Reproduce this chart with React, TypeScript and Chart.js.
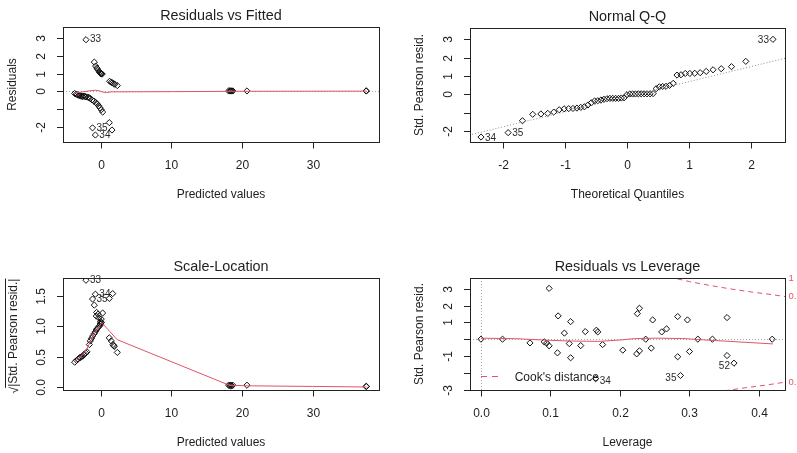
import React, { useEffect, useRef } from "react";
import { Chart, registerables } from "chart.js";

Chart.register(...registerables);

// ---------------- data ----------------
// Panel 1: Residuals vs Fitted
const rvfFitted = [
  -2.08, -0.9, -0.71, -0.55, -0.45, -0.28, -0.15, -0.05, 0.0, 0.08, 0.14, 0.2,
  1.27, 1.5, 1.65, 1.85, 2.0, 2.35,
  -3.68, -3.45, -3.3, -3.11, -2.95, -2.83, -2.65, -2.55, -2.36, -2.2, -2.08, -1.8, -1.6, -1.47, -1.23, -0.95, -0.71, -0.6, -0.48, -0.28, -0.1, 0.08, 0.28,
  1.22, 1.6, -1.15, -0.75,
  18.1, 18.25, 18.35, 18.45, 18.55, 18.7, 20.7, 37.55, 37.6,
];
const rvfResiduals = [
  2.89, 1.64, 1.42, 1.31, 1.26, 1.14, 1.08, 1.03, 1.0, 0.98, 1.0, 0.97,
  0.57, 0.52, 0.48, 0.43, 0.4, 0.33,
  -0.11, -0.15, -0.18, -0.21, -0.23, -0.24, -0.27, -0.28, -0.26, -0.29, -0.3, -0.32, -0.36, -0.39, -0.47, -0.54, -0.61, -0.66, -0.71, -0.8, -0.91, -1.02, -1.15,
  -1.74, -2.15, -2.03, -2.43,
  0.03, 0.03, 0.03, 0.03, 0.03, 0.03, 0.03, 0.03, 0.03,
];
const rvfSmoothX = [-3.7, -2.5, -1.5, -0.7, -0.2, 0.3, 0.8, 1.5, 2.4, 10.3, 18.3, 37.6];
const rvfSmoothY = [-0.08, -0.02, 0.04, 0.07, 0.04, -0.03, -0.06, -0.02, -0.02, -0.01, 0.01, 0.02];
const rvfIds = ["33", "35", "34"];
const rvfIdX = [-2.08, -1.15, -0.75];
const rvfIdY = [2.89, -2.03, -2.43];

// Panel 2: Normal Q-Q
const qqTheoretical = [
  -2.362, -1.923, -1.691, -1.525, -1.393, -1.282, -1.184, -1.097, -1.017, -0.943,
  -0.874, -0.81, -0.748, -0.689, -0.632, -0.577, -0.524, -0.473, -0.422, -0.373,
  -0.324, -0.277, -0.23, -0.184, -0.137, -0.091, -0.046, 0.0,
  0.046, 0.091, 0.137, 0.184, 0.23, 0.277, 0.324, 0.373, 0.422,
  0.473, 0.524, 0.577, 0.632, 0.689, 0.748,
  0.81, 0.874, 0.943, 1.017, 1.097, 1.184, 1.282, 1.393, 1.525, 1.691, 1.923, 2.362,
];
const qqStdResid = [
  -2.33, -2.09, -1.44, -1.09, -1.07, -1.04, -0.97, -0.84, -0.79, -0.78,
  -0.77, -0.75, -0.71, -0.68, -0.58, -0.46, -0.36, -0.35, -0.31, -0.27,
  -0.24, -0.22, -0.22, -0.22, -0.22, -0.2, -0.19, -0.02,
  0.02, 0.02, 0.02, 0.03, 0.03, 0.03, 0.03, 0.03, 0.04,
  0.31, 0.41, 0.43, 0.44, 0.49, 0.6,
  1.05, 1.07, 1.14, 1.14, 1.15, 1.18, 1.25, 1.34, 1.4, 1.51, 1.8, 3.0,
];
const qqLineX = [-2.6, 2.6];
const qqLineY = [-2.26, 2.0];
const qqIds = ["34", "35", "33"];
const qqIdX = [-2.362, -1.923, 2.362];
const qqIdY = [-2.33, -2.09, 3.0];

// Panel 3: Scale-Location
const slFitted = [
  -2.08, -0.75, -1.15, 1.7, 1.22, -0.9,
  -0.57, -0.62, -0.38, 0.28, -0.28, 0.08, 0.0, -0.06, 0.05,
  1.22, 1.5, 1.74, 1.85, 1.93, 2.35,
  -3.68, -3.4, -3.2, -3.0, -2.89, -2.7, -2.55, -2.4, -2.27, -2.1, -1.94, -1.6, -1.47, -1.3, -1.13, -0.9, -0.75, -0.62, -0.5, -0.38, -0.15, 0.0, 0.08,
  18.1, 18.25, 18.35, 18.45, 18.55, 18.7, 20.7, 37.55, 37.6,
];
const slRootResid = [
  1.76, 1.53, 1.45, 1.54, 1.46, 1.35,
  1.23, 1.17, 1.2, 1.22, 1.14, 1.12, 1.08, 1.04, 1.06,
  0.81, 0.76, 0.7, 0.68, 0.67, 0.57,
  0.41, 0.44, 0.46, 0.48, 0.49, 0.5, 0.51, 0.53, 0.54, 0.56, 0.58, 0.7, 0.76, 0.8, 0.84, 0.88, 0.91, 0.94, 0.96, 0.98, 1.01, 1.03, 1.06,
  0.03, 0.03, 0.02, 0.03, 0.02, 0.03, 0.03, 0.01, 0.01,
];
const slSmoothX = [-3.7, -3.0, -2.0, -1.0, -0.4, 0.15, 2.35, 18.2, 20.7, 30.0, 37.6];
const slSmoothY = [0.42, 0.48, 0.62, 0.86, 0.97, 1.06, 0.78, 0.03, 0.02, 0.01, 0.0];
const slIds = ["33", "34", "35"];
const slIdX = [-2.08, -0.75, -1.15];
const slIdY = [1.76, 1.53, 1.45];

// Panel 4: Residuals vs Leverage
const rvlLeverage = [
  0.0, 0.031, 0.0705, 0.091, 0.0945, 0.098, 0.098, 0.111, 0.11, 0.12, 0.127, 0.129, 0.129, 0.1435,
  0.15, 0.166, 0.168, 0.175, 0.165, 0.204, 0.225, 0.228, 0.224, 0.228, 0.237, 0.245, 0.247, 0.26,
  0.267, 0.283, 0.283, 0.287, 0.297, 0.3, 0.312, 0.333, 0.354, 0.354, 0.364, 0.419,
];
const rvlStdResid = [
  0.01, 0.01, -0.21, -0.15, -0.22, -0.38, 3.02, 1.39, -0.8, 0.37, -0.25, 1.05, -1.09, -0.37,
  0.46, 0.54, 0.44, -0.31, -2.33, -0.64, 1.52, 1.84, -0.86, -0.68, 0.01, -0.52, 1.15, 0.44,
  0.62, 1.35, -1.03, -2.14, 1.15, -0.72, 0.01, 0.01, 1.29, -0.96, -1.41, 0.01,
];
const rvlSmoothX = [0.0, 0.05, 0.1, 0.13, 0.17, 0.2, 0.22, 0.25, 0.29, 0.32, 0.37, 0.42];
const rvlSmoothY = [0.07, 0.04, -0.06, -0.1, -0.12, -0.04, 0.04, 0.07, 0.05, -0.03, -0.15, -0.27];
const cookHalfUpperH = [0.27, 0.3, 0.33, 0.36, 0.39, 0.42, 0.44];
const cookHalfUpperY = [3.7, 3.42, 3.19, 2.98, 2.8, 2.64, 2.52];
const cookOneUpperH = [0.42, 0.44];
const cookOneUpperY = [3.72, 3.57];
const cookHalfLowerH = [0.35, 0.38, 0.41, 0.44];
const cookHalfLowerY = [-3.05, -2.87, -2.71, -2.52];
const cookLabels = ["1", "0.5", "0.5"];
const cookLabelY = [3.59, 2.54, -2.54];
const rvlIds = ["34", "35", "52"];
const rvlIdX = [0.165, 0.287, 0.364];
const rvlIdY = [-2.33, -2.14, -1.41];

// tick values / labels
const fittedTicks = [0, 10, 20, 30];
const fittedTickLabels = ["0", "10", "20", "30"];
const residTicks = [-2, -1, 0, 1, 2, 3];
const residTickLabels = ["-2", "", "0", "1", "2", "3"];
const qqXTicks = [-2, -1, 0, 1, 2];
const qqXTickLabels = ["-2", "-1", "0", "1", "2"];
const slYTicks = [0, 0.5, 1, 1.5];
const slYTickLabels = ["0.0", "0.5", "1.0", "1.5"];
const levXTicks = [0, 0.1, 0.2, 0.3, 0.4];
const levXTickLabels = ["0.0", "0.1", "0.2", "0.3", "0.4"];
const levYTicks = [-3, -2, -1, 0, 1, 2, 3];
const levYTickLabels = ["-3", "", "-1", "", "1", "2", "3"];

// ---------------- styling ----------------
const W = 797;
const H = 453;
const FONT = '"Liberation Sans", Arial, Helvetica, sans-serif';
const INK = "#1e1e1e";
const RED = "#DF536B";
const GRAY = "#a8a8a8";

const zip = (xs: number[], ys: number[]) => xs.map((x, i) => ({ x, y: ys[i] }));

const pointSet = (xs: number[], ys: number[]) => ({
  data: zip(xs, ys),
  showLine: false,
  pointStyle: "rectRot",
  pointRadius: 3.1,
  pointBorderWidth: 1,
  borderColor: "#111",
  backgroundColor: "rgba(0,0,0,0)",
  pointBackgroundColor: "rgba(0,0,0,0)",
  pointBorderColor: "#111",
  order: 1,
});

const lineSet = (xs: number[], ys: number[], dash: number[] = [], color = RED) => ({
  data: zip(xs, ys),
  showLine: true,
  pointRadius: 0,
  borderColor: color,
  borderWidth: 1,
  borderDash: dash,
  tension: 0,
  fill: false,
  order: 0,
});

type Id = { text: string; x: number; y: number; side: "left" | "right"; dy: number };

type Spec = {
  box: { left: number; top: number; right: number; bottom: number };
  xRange: [number, number];
  yRange: [number, number];
  xTicks: number[];
  xTickLabels: string[];
  yTicks: number[];
  yTickLabels: string[];
  title: string;
  xLabel: string;
  yLabel: string;
  sqrtLabel?: boolean;
  hRefs: number[];
  vRefs: number[];
  refDash: number[];
  ids: Id[];
  datasets: any[];
  extra?: (chart: any) => void;
};

const mkIds = (texts: string[], xs: number[], ys: number[], sides: ("left" | "right")[], dy: number): Id[] =>
  texts.map((t, i) => ({ text: t, x: xs[i], y: ys[i], side: sides[i], dy }));

function drawText(ctx: CanvasRenderingContext2D, s: string, x: number, y: number, size: number, align: CanvasTextAlign = "center", color = INK, rot = 0) {
  ctx.save();
  ctx.font = `${size}px ${FONT}`;
  ctx.fillStyle = color;
  ctx.textAlign = align;
  ctx.textBaseline = "middle";
  ctx.translate(x, y);
  if (rot) ctx.rotate(rot);
  ctx.fillText(s, 0, 0);
  ctx.restore();
}

function makePlugin(spec: Spec) {
  return {
    id: "rbase",
    beforeDatasetsDraw(chart: any) {
      const { ctx, chartArea: a } = chart;
      const xs = chart.scales.x;
      const ys = chart.scales.y;
      ctx.save();
      ctx.strokeStyle = GRAY;
      ctx.lineWidth = 1;
      ctx.setLineDash(spec.refDash);
      for (const v of spec.hRefs) {
        const py = Math.round(ys.getPixelForValue(v)) + 0.5;
        ctx.beginPath();
        ctx.moveTo(a.left, py);
        ctx.lineTo(a.right, py);
        ctx.stroke();
      }
      for (const v of spec.vRefs) {
        const px = Math.round(xs.getPixelForValue(v)) + 0.5;
        ctx.beginPath();
        ctx.moveTo(px, a.top);
        ctx.lineTo(px, a.bottom);
        ctx.stroke();
      }
      ctx.restore();
    },
    afterDatasetsDraw(chart: any) {
      const { ctx, chartArea: a } = chart;
      const xs = chart.scales.x;
      const ys = chart.scales.y;
      ctx.save();
      ctx.strokeStyle = "#222";
      ctx.lineWidth = 1;
      ctx.setLineDash([]);
      ctx.strokeRect(a.left + 0.5, a.top + 0.5, a.right - a.left, a.bottom - a.top);
      // x ticks
      spec.xTicks.forEach((v, i) => {
        const px = Math.round(xs.getPixelForValue(v)) + 0.5;
        ctx.beginPath();
        ctx.moveTo(px, a.bottom + 0.5);
        ctx.lineTo(px, a.bottom + 6.5);
        ctx.stroke();
        drawText(ctx, spec.xTickLabels[i], px, a.bottom + 23.5, 12);
      });
      // y ticks
      spec.yTicks.forEach((v, i) => {
        const py = Math.round(ys.getPixelForValue(v)) + 0.5;
        ctx.beginPath();
        ctx.moveTo(a.left - 6, py);
        ctx.lineTo(a.left + 0.5, py);
        ctx.stroke();
        if (spec.yTickLabels[i]) drawText(ctx, spec.yTickLabels[i], a.left - 21, py, 12, "center", INK, -Math.PI / 2);
      });
      const cx = (a.left + a.right) / 2;
      const cy = (a.top + a.bottom) / 2;
      drawText(ctx, spec.title, cx, a.top - 10.8, 14.4);
      drawText(ctx, spec.xLabel, cx, a.bottom + 53, 12);
      if (spec.sqrtLabel) {
        ctx.save();
        ctx.font = `12px ${FONT}`;
        const rad = "\u221A";
        const body = "|Std. Pearson resid.|";
        const rw = ctx.measureText(rad).width;
        const bw = ctx.measureText(body).width;
        const total = rw + bw;
        ctx.translate(a.left - 49, cy + 2);
        ctx.rotate(-Math.PI / 2);
        ctx.fillStyle = INK;
        ctx.textBaseline = "middle";
        ctx.textAlign = "left";
        ctx.fillText(rad, -total / 2, 1);
        ctx.fillText(body, -total / 2 + rw, 0);
        ctx.strokeStyle = INK;
        ctx.beginPath();
        ctx.moveTo(-total / 2 + rw * 0.85, -8.5);
        ctx.lineTo(total / 2, -8.5);
        ctx.stroke();
        ctx.restore();
      } else {
        drawText(ctx, spec.yLabel, a.left - 50, cy, 12, "center", INK, -Math.PI / 2);
      }
      // id labels
      for (const id of spec.ids) {
        const px = xs.getPixelForValue(id.x);
        const py = ys.getPixelForValue(id.y) + id.dy;
        if (id.side === "right") drawText(ctx, id.text, px + 4, py, 10, "left", "#2a2a2a");
        else drawText(ctx, id.text, px - 4, py, 10, "right", "#2a2a2a");
      }
      if (spec.extra) spec.extra(chart);
      ctx.restore();
    },
  };
}

// ---------------- panel specs ----------------
const specs: Spec[] = [
  {
    box: { left: 63, top: 27, right: 379, bottom: 142 },
    xRange: [-5.33, 39.38],
    yRange: [-2.82, 3.6],
    xTicks: fittedTicks,
    xTickLabels: fittedTickLabels,
    yTicks: residTicks,
    yTickLabels: residTickLabels,
    title: "Residuals vs Fitted",
    xLabel: "Predicted values",
    yLabel: "Residuals",
    hRefs: [0],
    vRefs: [],
    refDash: [1, 2],
    ids: mkIds(rvfIds, rvfIdX, rvfIdY, ["right", "right", "right"], 0),
    datasets: [lineSet(rvfSmoothX, rvfSmoothY), pointSet(rvfFitted, rvfResiduals)],
  },
  {
    box: { left: 470, top: 28, right: 785, bottom: 142 },
    xRange: [-2.54, 2.557],
    yRange: [-2.6, 3.62],
    xTicks: qqXTicks,
    xTickLabels: qqXTickLabels,
    yTicks: residTicks,
    yTickLabels: residTickLabels,
    title: "Normal Q-Q",
    xLabel: "Theoretical Quantiles",
    yLabel: "Std. Pearson resid.",
    hRefs: [],
    vRefs: [],
    refDash: [1, 2],
    ids: mkIds(qqIds, qqIdX, qqIdY, ["right", "right", "left"], 1),
    datasets: [lineSet(qqLineX, qqLineY, [1, 2], "#8c8c8c"), pointSet(qqTheoretical, qqStdResid)],
  },
  {
    box: { left: 63, top: 278, right: 379, bottom: 390 },
    xRange: [-5.33, 39.38],
    yRange: [-0.049, 1.797],
    xTicks: fittedTicks,
    xTickLabels: fittedTickLabels,
    yTicks: slYTicks,
    yTickLabels: slYTickLabels,
    title: "Scale-Location",
    xLabel: "Predicted values",
    yLabel: "",
    sqrtLabel: true,
    hRefs: [],
    vRefs: [],
    refDash: [1, 2],
    ids: mkIds(slIds, slIdX, slIdY, ["right", "right", "right"], 0),
    datasets: [lineSet(slSmoothX, slSmoothY), pointSet(slFitted, slRootResid)],
  },
  {
    box: { left: 470, top: 278, right: 785, bottom: 390 },
    xRange: [-0.0158, 0.4374],
    yRange: [-3, 3.634],
    xTicks: levXTicks,
    xTickLabels: levXTickLabels,
    yTicks: levYTicks,
    yTickLabels: levYTickLabels,
    title: "Residuals vs Leverage",
    xLabel: "Leverage",
    yLabel: "Std. Pearson resid.",
    hRefs: [0],
    vRefs: [0],
    refDash: [1, 2],
    ids: mkIds(rvlIds, rvlIdX, rvlIdY, ["right", "left", "left"], 3),
    datasets: [
      lineSet(rvlSmoothX, rvlSmoothY),
      lineSet(cookHalfUpperH, cookHalfUpperY, [5, 4]),
      lineSet(cookOneUpperH, cookOneUpperY, [5, 4]),
      lineSet(cookHalfLowerH, cookHalfLowerY, [5, 4]),
      pointSet(rvlLeverage, rvlStdResid),
    ],
    extra: (chart: any) => {
      const { ctx, chartArea: a } = chart;
      const ys = chart.scales.y;
      ctx.save();
      ctx.strokeStyle = RED;
      ctx.lineWidth = 1;
      ctx.setLineDash([6, 5]);
      ctx.beginPath();
      ctx.moveTo(a.left + 11, a.bottom - 13.5);
      ctx.lineTo(a.left + 30, a.bottom - 13.5);
      ctx.stroke();
      ctx.restore();
      drawText(ctx, "Cook's distance", a.left + 44.7, a.bottom - 12, 12, "left");
      cookLabels.forEach((t, i) => {
        drawText(ctx, t, a.right + 3.5, ys.getPixelForValue(cookLabelY[i]), 9.5, "left", RED);
      });
    },
  },
];

function buildConfig(spec: Spec): any {
  return {
    type: "scatter",
    data: { datasets: spec.datasets },
    options: {
      responsive: false,
      maintainAspectRatio: false,
      animation: false,
      devicePixelRatio: 1,
      events: [],
      layout: {
        padding: {
          left: spec.box.left,
          top: spec.box.top,
          right: W - spec.box.right,
          bottom: H - spec.box.bottom,
        },
      },
      scales: {
        x: { type: "linear", display: false, min: spec.xRange[0], max: spec.xRange[1] },
        y: { type: "linear", display: false, min: spec.yRange[0], max: spec.yRange[1] },
      },
      plugins: {
        legend: { display: false },
        tooltip: { enabled: false },
        title: { display: false },
      },
    },
    plugins: [makePlugin(spec)],
  };
}

function Panel({ spec }: { spec: Spec }) {
  const ref = useRef<HTMLCanvasElement | null>(null);
  useEffect(() => {
    if (!ref.current) return;
    const chart = new Chart(ref.current, buildConfig(spec));
    return () => chart.destroy();
  }, [spec]);
  return (
    <canvas
      ref={ref}
      width={W}
      height={H}
      style={{ position: "absolute", left: 0, top: 0, width: W, height: H }}
    />
  );
}

export default function App() {
  return (
    <div
      style={{
        position: "fixed",
        left: 0,
        top: 0,
        width: W,
        height: H,
        background: "#ffffff",
        overflow: "hidden",
      }}
    >
      {specs.map((s, i) => (
        <Panel key={i} spec={s} />
      ))}
    </div>
  );
}
